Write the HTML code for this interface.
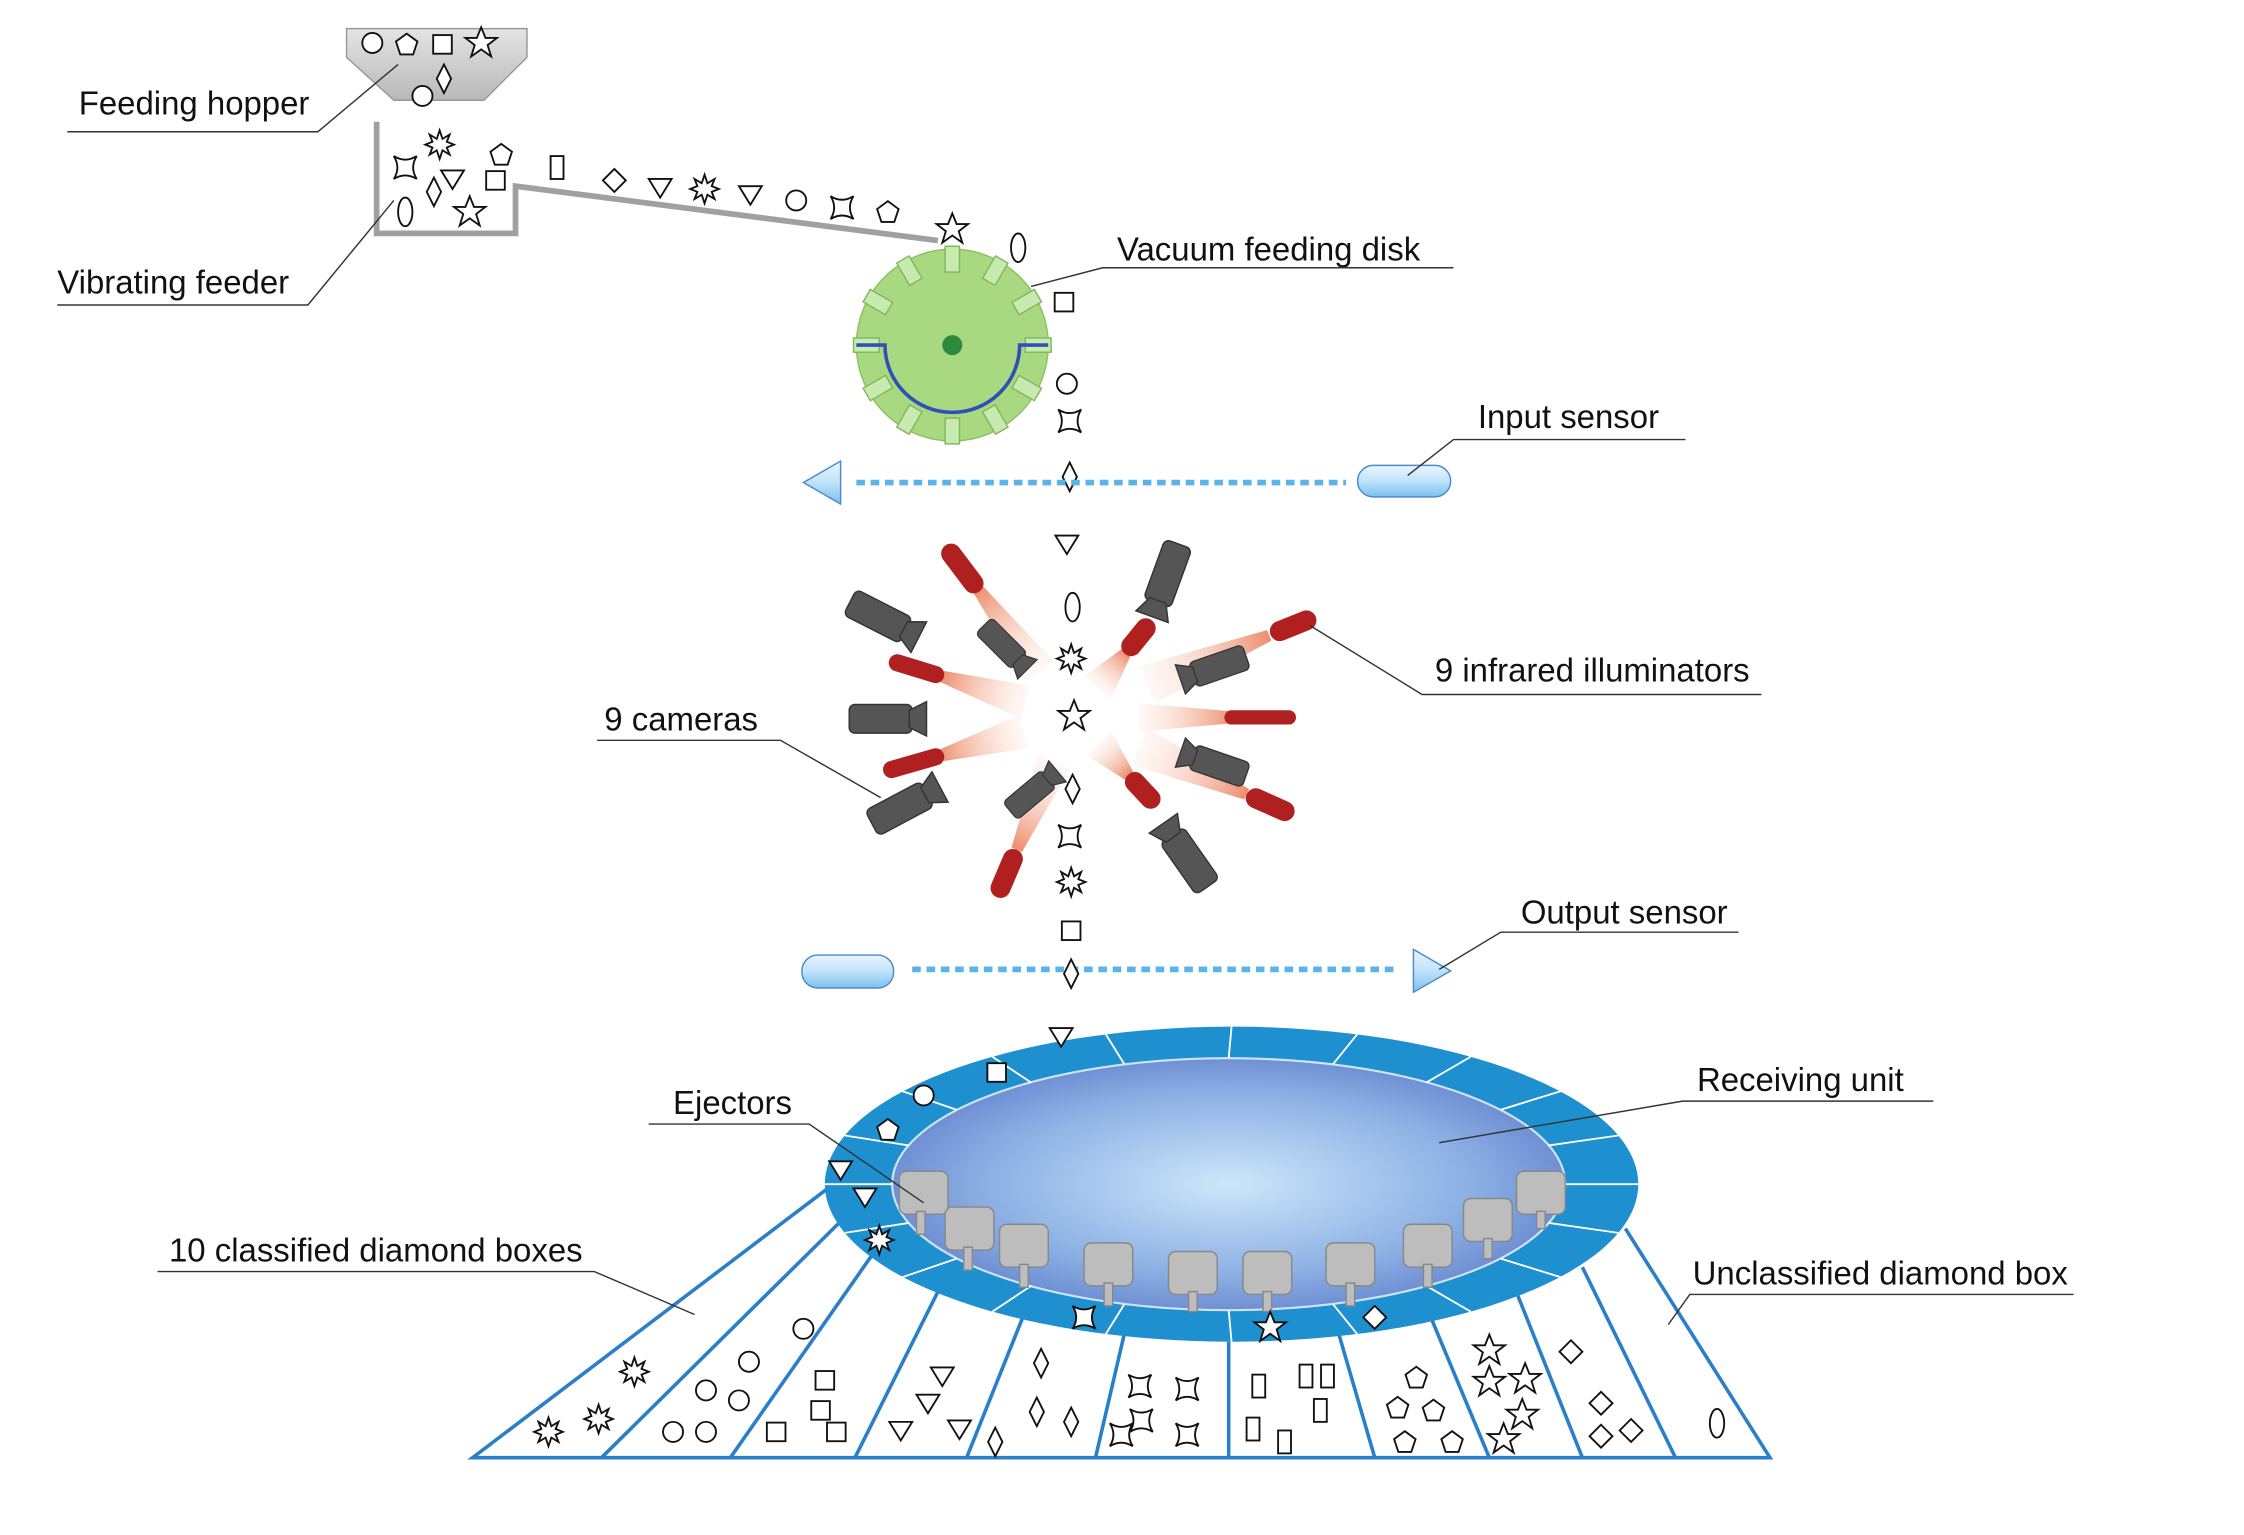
<!DOCTYPE html>
<html><head><meta charset="utf-8"><style>
html,body{margin:0;padding:0;background:#fff;}
svg{display:block;}
text{font-family:"Liberation Sans",sans-serif;font-size:23px;fill:#111;}
</style></head><body>
<svg width="2244" height="1535" viewBox="0 0 1567 1072" preserveAspectRatio="none" xmlns="http://www.w3.org/2000/svg">
<defs>
<linearGradient id="hop" x1="0" y1="0" x2="0" y2="1"><stop offset="0" stop-color="#e4e4e4"/><stop offset="1" stop-color="#b8b8b8"/></linearGradient>
<linearGradient id="cap" x1="0" y1="0" x2="0" y2="1"><stop offset="0" stop-color="#eaf6ff"/><stop offset=".5" stop-color="#bfe2fa"/><stop offset="1" stop-color="#7cc0ee"/></linearGradient>
<radialGradient id="inner" cx=".5" cy=".5" r=".6"><stop offset="0" stop-color="#cde6fa"/><stop offset=".6" stop-color="#8cb0e4"/><stop offset="1" stop-color="#5a78c8"/></radialGradient>
<linearGradient id="cone" x1="0" y1="0" x2="1" y2="0"><stop offset="0" stop-color="#e8704a" stop-opacity=".8"/><stop offset="1" stop-color="#fbd8c8" stop-opacity=".15"/></linearGradient>
<g id="ci"><circle r="7" fill="#fff" stroke="#111" stroke-width="1.3"/></g>
<g id="sq"><rect x="-6.5" y="-6.5" width="13" height="13" fill="#fff" stroke="#111" stroke-width="1.3"/></g>
<g id="di"><path d="M0,-10 L5,0 L0,10 L-5,0Z" fill="#fff" stroke="#111" stroke-width="1.3"/></g>
<g id="dd"><path d="M0,-8 L8,0 L0,8 L-8,0Z" fill="#fff" stroke="#111" stroke-width="1.3"/></g>
<g id="tr"><path d="M-8,-6 L8,-6 L0,7Z" fill="#fff" stroke="#111" stroke-width="1.3"/></g>
<g id="st"><path d="M0,-11 L3,-3.5 L11,-3.5 L4.5,1.5 L7,9.5 L0,4.5 L-7,9.5 L-4.5,1.5 L-11,-3.5 L-3,-3.5Z" fill="#fff" stroke="#111" stroke-width="1.3"/></g>
<g id="pe"><path d="M0,-7.5 L7.5,-2 L4.5,7 L-4.5,7 L-7.5,-2Z" fill="#fff" stroke="#111" stroke-width="1.3"/></g>
<g id="el"><ellipse rx="5" ry="10" fill="#fff" stroke="#111" stroke-width="1.3"/></g>
<g id="re"><rect x="-4.5" y="-8" width="9" height="16" fill="#fff" stroke="#111" stroke-width="1.3"/></g>
<g id="as"><path d="M-8,-8 Q0,-3 8,-8 Q3,0 8,8 Q0,3 -8,8 Q-3,0 -8,-8Z" fill="#fff" stroke="#111" stroke-width="1.3"/></g>
<g id="bu"><path d="M0,-10 L2,-4 L7,-7 L5,-2 L10,0 L5,2 L7,7 L2,4 L0,10 L-2,4 L-7,7 L-5,2 L-10,0 L-5,-2 L-7,-7 L-2,-4Z" fill="#fff" stroke="#111" stroke-width="1.3"/></g>
<g id="cam"><rect x="-32" y="-10" width="44" height="20" rx="4" fill="#555" stroke="#333"/><path d="M10,-6 L22,-12 L22,12 L10,6Z" fill="#555" stroke="#333"/></g>
<g id="tab"><rect x="-5" y="-9" width="10" height="18" fill="#c8eab0" stroke="#7cba5a"/></g>
</defs>

<path d="M242,20 H368 V40 L338,70 H275 L242,40Z" fill="url(#hop)" stroke="#999"/>
<use href="#ci" x="260" y="30"/><use href="#pe" x="284" y="31"/><use href="#sq" x="309" y="31"/><use href="#st" x="336" y="30"/><use href="#di" x="310" y="55"/><use href="#ci" x="295" y="67"/>
<text x="55" y="80">Feeding hopper</text>
<path d="M47,92 H222 L278,45" fill="none" stroke="#333" stroke-width="1"/>

<path d="M263,85 V163 H360 V130 L655,168" fill="none" stroke="#a0a0a0" stroke-width="4"/>
<use href="#as" x="283" y="117"/><use href="#bu" x="307" y="101"/><use href="#pe" x="350" y="108"/><use href="#tr" x="316" y="125"/><use href="#sq" x="346" y="126"/><use href="#di" x="303" y="134"/><use href="#el" x="283" y="148"/><use href="#st" x="328" y="148"/>
<use href="#re" x="389" y="117"/><use href="#dd" x="429" y="126"/><use href="#tr" x="461" y="131"/><use href="#bu" x="492" y="132"/><use href="#tr" x="524" y="136"/><use href="#ci" x="556" y="140"/><use href="#as" x="588" y="145"/><use href="#pe" x="620" y="148"/>
<text x="40" y="205">Vibrating feeder</text>
<path d="M40,213 H215 L275,140" fill="none" stroke="#333" stroke-width="1"/>

<circle cx="665" cy="241" r="67" fill="#a8d880" stroke="#8cc064"/>
<g transform="translate(665,241)">
<use href="#tab" transform="rotate(0) translate(0,-60)"/><use href="#tab" transform="rotate(30) translate(0,-60)"/><use href="#tab" transform="rotate(60) translate(0,-60)"/><use href="#tab" transform="rotate(90) translate(0,-60)"/><use href="#tab" transform="rotate(120) translate(0,-60)"/><use href="#tab" transform="rotate(150) translate(0,-60)"/><use href="#tab" transform="rotate(180) translate(0,-60)"/><use href="#tab" transform="rotate(210) translate(0,-60)"/><use href="#tab" transform="rotate(240) translate(0,-60)"/><use href="#tab" transform="rotate(270) translate(0,-60)"/><use href="#tab" transform="rotate(300) translate(0,-60)"/><use href="#tab" transform="rotate(330) translate(0,-60)"/>
</g>
<path d="M598,241 H618 A47,47 0 0 0 712,241 H732" fill="none" stroke="#3050b8" stroke-width="2.5"/>
<circle cx="665" cy="241" r="7" fill="#2e8a3a"/>
<use href="#st" x="665" y="160"/><use href="#el" x="711" y="173"/><use href="#sq" x="743" y="211"/><use href="#ci" x="745" y="268"/><use href="#as" x="747" y="294"/><use href="#di" x="747" y="333"/>
<text x="780" y="182">Vacuum feeding disk</text>
<path d="M1015,187 H770 L720,200" fill="none" stroke="#333" stroke-width="1"/>

<path d="M598,337 H940" stroke="#5ab4e8" stroke-width="4" stroke-dasharray="6,4"/>
<path d="M561,337 L587,322 L587,352Z" fill="url(#cap)" stroke="#4a8ac8"/>
<rect x="948" y="325" width="65" height="22" rx="11" fill="url(#cap)" stroke="#4a8ac8"/>
<text x="1032" y="299">Input sensor</text>
<path d="M1177,307 H1015 L983,332" fill="none" stroke="#333" stroke-width="1"/>

<g transform="translate(672,397) rotate(53)"><path d="M18,-4 L90,-12 L90,12 L18,4Z" fill="url(#cone)"/><rect x="-20" y="-7" width="40" height="14" rx="7" fill="#b02020"/></g>
<g transform="translate(640,467) rotate(17)"><path d="M18,-4 L80,-12 L80,12 L18,4Z" fill="url(#cone)"/><rect x="-20" y="-6" width="40" height="12" rx="6" fill="#b02020"/></g>
<g transform="translate(795,445) rotate(129)"><path d="M14,-4 L45,-12 L45,12 L14,4Z" fill="url(#cone)"/><rect x="-15" y="-7" width="30" height="14" rx="7" fill="#b02020"/></g>
<g transform="translate(903,437) rotate(158)"><path d="M18,-4 L110,-14 L110,14 L18,4Z" fill="url(#cone)"/><rect x="-17" y="-7" width="34" height="14" rx="7" fill="#b02020"/></g>
<g transform="translate(880,501) rotate(180)"><path d="M18,-4 L85,-10 L85,10 L18,4Z" fill="url(#cone)"/><rect x="-25" y="-5" width="50" height="10" rx="5" fill="#b02020"/></g>
<g transform="translate(638,533) rotate(-16)"><path d="M18,-4 L80,-12 L80,12 L18,4Z" fill="url(#cone)"/><rect x="-22" y="-6" width="44" height="12" rx="6" fill="#b02020"/></g>
<g transform="translate(798,552) rotate(-133)"><path d="M14,-4 L45,-12 L45,12 L14,4Z" fill="url(#cone)"/><rect x="-15" y="-7" width="30" height="14" rx="7" fill="#b02020"/></g>
<g transform="translate(887,562) rotate(-156)"><path d="M18,-4 L100,-14 L100,14 L18,4Z" fill="url(#cone)"/><rect x="-18" y="-7" width="36" height="14" rx="7" fill="#b02020"/></g>
<g transform="translate(703,610) rotate(-67)"><path d="M18,-4 L85,-12 L85,12 L18,4Z" fill="url(#cone)"/><rect x="-18" y="-7" width="36" height="14" rx="7" fill="#b02020"/></g>
<use href="#cam" transform="translate(622,435) rotate(27)"/>
<use href="#cam" transform="translate(705,455) rotate(45) scale(.8)"/>
<use href="#cam" transform="translate(812,410) rotate(110)"/>
<use href="#cam" transform="translate(843,468) rotate(161) scale(.9)"/>
<use href="#cam" transform="translate(625,502)"/>
<use href="#cam" transform="translate(843,532) rotate(-161) scale(.9)"/>
<use href="#cam" transform="translate(725,550) rotate(-40) scale(.8)"/>
<use href="#cam" transform="translate(637,560) rotate(-28)"/>
<use href="#cam" transform="translate(825,593) rotate(-125)"/>
<use href="#tr" x="745" y="380"/><use href="#el" x="749" y="424"/><use href="#bu" x="748" y="460"/><use href="#st" x="750" y="500"/><use href="#di" x="749" y="551"/><use href="#as" x="747" y="584"/><use href="#bu" x="748" y="616"/><use href="#sq" x="748" y="650"/>
<text x="1002" y="476">9 infrared illuminators</text>
<path d="M1230,485 H993 L915,437" fill="none" stroke="#333" stroke-width="1"/>
<text x="422" y="510">9 cameras</text>
<path d="M417,517 H545 L615,557" fill="none" stroke="#333" stroke-width="1"/>

<path d="M637,677 H975" stroke="#5ab4e8" stroke-width="4" stroke-dasharray="6,4"/>
<rect x="560" y="667" width="64" height="23" rx="11" fill="url(#cap)" stroke="#4a8ac8"/>
<path d="M1013,678 L987,663 L987,693Z" fill="url(#cap)" stroke="#4a8ac8"/>
<use href="#di" x="748" y="680"/>
<text x="1062" y="645">Output sensor</text>
<path d="M1214,651 H1048 L1005,677" fill="none" stroke="#333" stroke-width="1"/>

<g fill="none" stroke="#2a7fc8" stroke-width="2.5">
<path d="M578,830 L330,1018 H1236 L1135,858"/>
<path d="M588,852 L420,1018 M610,875 L510,1018 M655,902 L597,1018 M715,918 L675,1018 M785,932 L765,1018 M858,937 L858,1018 M935,932 L960,1018 M1000,922 L1040,1018 M1060,905 L1105,1018 M1105,885 L1170,1018"/>
</g>
<ellipse cx="860" cy="827" rx="284" ry="110" fill="#1e8fcf"/>
<ellipse cx="858" cy="827" rx="235" ry="88" fill="url(#inner)" stroke="#cfe3f4" stroke-width="1.5"/>
<g stroke="#fff" stroke-width="1.3">
<path d="M1093,827L1144,827M1081,854L1130,861M1048,879L1090,892M996,898L1027,916M931,911L948,932M858,915L860,937M785,911L772,932M720,898L693,916M668,879L630,892M635,854L590,861M623,827L576,827M635,800L590,793M668,775L630,762M720,756L693,738M785,743L772,722M858,739L860,717M931,743L948,722M996,756L1027,738M1048,775L1090,762M1081,800L1130,793"/>
</g>
<g fill="#bdbdbd" stroke="#888">
<rect x="628" y="818" width="34" height="30" rx="5"/><rect x="640" y="846" width="6" height="16"/>
<rect x="660" y="843" width="34" height="30" rx="5"/><rect x="673" y="871" width="6" height="16"/>
<rect x="698" y="855" width="34" height="30" rx="5"/><rect x="712" y="883" width="6" height="16"/>
<rect x="757" y="868" width="34" height="30" rx="5"/><rect x="771" y="896" width="6" height="16"/>
<rect x="816" y="874" width="34" height="30" rx="5"/><rect x="830" y="902" width="6" height="14"/>
<rect x="868" y="874" width="34" height="30" rx="5"/><rect x="882" y="902" width="6" height="14"/>
<rect x="926" y="868" width="34" height="30" rx="5"/><rect x="940" y="896" width="6" height="16"/>
<rect x="980" y="855" width="34" height="30" rx="5"/><rect x="994" y="883" width="6" height="16"/>
<rect x="1022" y="837" width="34" height="30" rx="5"/><rect x="1036" y="865" width="6" height="14"/>
<rect x="1059" y="818" width="34" height="30" rx="5"/><rect x="1073" y="846" width="6" height="12"/>
</g>
<use href="#tr" x="741" y="724"/><use href="#sq" x="696" y="749"/><use href="#ci" x="645" y="765"/><use href="#pe" x="620" y="789"/><use href="#tr" x="587" y="817"/><use href="#tr" x="604" y="836"/><use href="#bu" x="614" y="866"/><use href="#as" x="757" y="920"/><use href="#st" x="887" y="927"/><use href="#dd" x="960" y="920"/>
<use href="#bu" x="383" y="1000"/><use href="#bu" x="418" y="991"/><use href="#bu" x="443" y="958"/>
<use href="#ci" x="470" y="1000"/><use href="#ci" x="493" y="1000"/><use href="#ci" x="493" y="971"/><use href="#ci" x="516" y="978"/><use href="#ci" x="523" y="951"/><use href="#ci" x="561" y="928"/>
<use href="#sq" x="542" y="1000"/><use href="#sq" x="584" y="1000"/><use href="#sq" x="573" y="985"/><use href="#sq" x="576" y="964"/>
<use href="#tr" x="629" y="999"/><use href="#tr" x="648" y="980"/><use href="#tr" x="658" y="961"/><use href="#tr" x="670" y="998"/>
<use href="#di" x="695" y="1007"/><use href="#di" x="724" y="986"/><use href="#di" x="748" y="993"/><use href="#di" x="727" y="952"/>
<use href="#as" x="783" y="1002"/><use href="#as" x="797" y="992"/><use href="#as" x="829" y="1002"/><use href="#as" x="796" y="968"/><use href="#as" x="829" y="970"/>
<use href="#re" x="875" y="998"/><use href="#re" x="897" y="1007"/><use href="#re" x="879" y="968"/><use href="#re" x="912" y="961"/><use href="#re" x="927" y="961"/><use href="#re" x="922" y="985"/>
<use href="#pe" x="989" y="962"/><use href="#pe" x="976" y="983"/><use href="#pe" x="1001" y="985"/><use href="#pe" x="981" y="1007"/><use href="#pe" x="1014" y="1007"/>
<use href="#st" x="1040" y="943"/><use href="#st" x="1040" y="965"/><use href="#st" x="1065" y="963"/><use href="#st" x="1063" y="988"/><use href="#st" x="1050" y="1005"/>
<use href="#dd" x="1097" y="944"/><use href="#dd" x="1118" y="980"/><use href="#dd" x="1118" y="1003"/><use href="#dd" x="1139" y="999"/>
<use href="#el" x="1199" y="994"/>
<text x="470" y="778">Ejectors</text>
<path d="M453,785 H565 L645,840" fill="none" stroke="#333" stroke-width="1"/>
<text x="1185" y="762">Receiving unit</text>
<path d="M1350,769 H1175 L1005,798" fill="none" stroke="#333" stroke-width="1"/>
<text x="118" y="881">10 classified diamond boxes</text>
<path d="M110,888 H415 L485,918" fill="none" stroke="#333" stroke-width="1"/>
<text x="1182" y="897">Unclassified diamond box</text>
<path d="M1448,904 H1180 L1165,925" fill="none" stroke="#333" stroke-width="1"/>
</svg>
</body></html>
